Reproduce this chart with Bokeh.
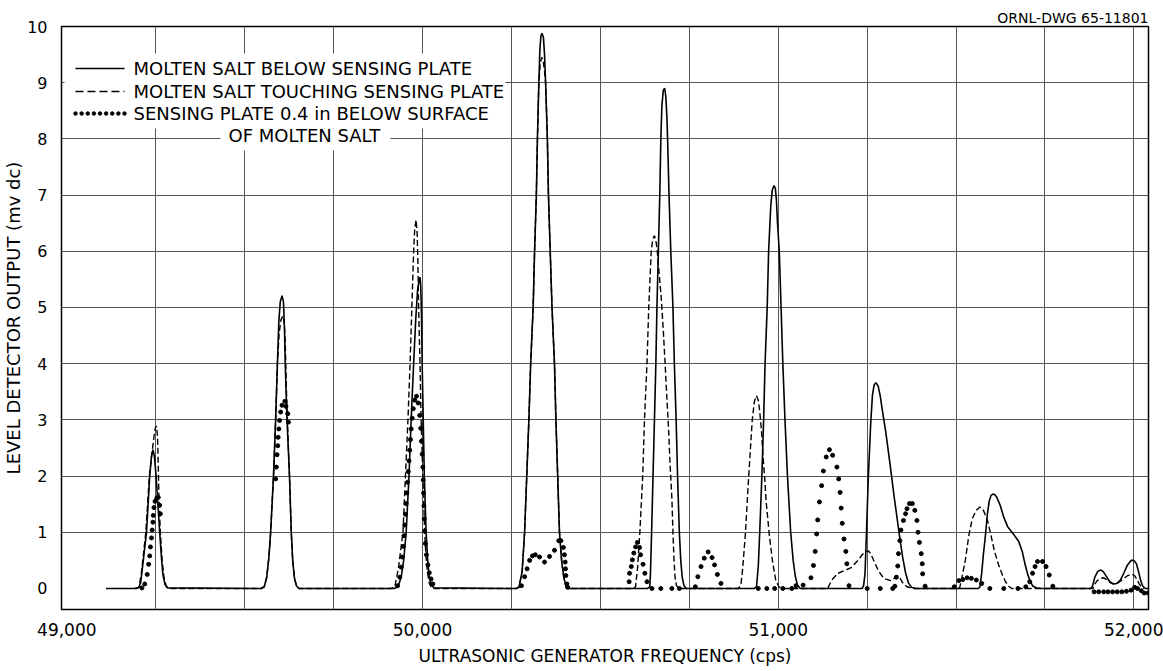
from bokeh.embed import file_html
from bokeh.resources import INLINE
from bokeh.plotting import figure
from bokeh.models import ColumnDataSource, FixedTicker, Label, BoxAnnotation, Range1d, Title

# ---------------------------------------------------------------------------
# Level detector output (mv dc) versus ultrasonic generator frequency (cps)
# ---------------------------------------------------------------------------

# Molten salt below sensing plate (solid curve)
below_plate = [
    (49110, 0), (49195, 0),
    (49203, 0.02), (49208, 0.12), (49215, 0.5), (49224, 1.0), (49233, 2.0), (49238, 2.35),
    (49242, 2.47), (49246, 2.36), (49251, 2.0), (49261, 1.0), (49266, 0.55), (49270, 0.25),
    (49276, 0.07), (49283, 0.01),
    (49545, 0),
    (49555, 0.03), (49562, 0.2), (49568, 0.55), (49573, 1.0), (49581, 2.0), (49587, 3.0),
    (49592, 4.0), (49596, 4.75), (49600, 5.1), (49605, 5.21), (49609, 5.1), (49612, 4.6),
    (49614, 4.0), (49619, 3.0), (49626, 2.0), (49631, 1.0), (49635, 0.5), (49640, 0.18),
    (49646, 0.04), (49653, 0),
    (49920, 0),
    (49931, 0.03), (49940, 0.2), (49947, 0.5), (49954, 1.0), (49962, 2.0), (49968, 3.0),
    (49975, 4.0), (49981, 4.8), (49986, 5.3), (49990, 5.47), (49993, 5.54), (49995, 5.38),
    (49997, 4.9), (49999, 4.0), (50002, 3.0), (50005, 2.0), (50010, 1.0), (50014, 0.55),
    (50018, 0.25), (50024, 0.08), (50032, 0.01),
    (50262, 0),
    (50271, 0.02), (50280, 0.3), (50287, 1.0), (50293, 2.0), (50299, 3.0), (50304, 4.0),
    (50311, 5.0), (50315, 6.0), (50320, 7.0), (50323, 8.0), (50327, 9.0), (50330, 9.6),
    (50333, 9.84), (50336, 9.88), (50340, 9.8), (50343, 9.5), (50346, 9.0), (50351, 8.0),
    (50354, 7.0), (50359, 6.0), (50364, 5.0), (50371, 4.0), (50375, 3.0), (50380, 2.0),
    (50385, 1.0), (50391, 0.5), (50397, 0.2), (50403, 0.05), (50410, 0),
    (50632, 0),
    (50639, 0.03), (50641, 0.3), (50644, 1.0), (50648, 2.0), (50652, 3.0), (50656, 4.0),
    (50659, 5.0), (50663, 6.0), (50667, 7.0), (50670, 8.0), (50673, 8.6), (50677, 8.87),
    (50681, 8.9), (50684, 8.75), (50687, 8.4), (50689, 8.0), (50693, 7.0), (50698, 6.0),
    (50704, 5.0), (50708, 4.0), (50713, 3.0), (50717, 2.0), (50722, 1.0), (50726, 0.5),
    (50730, 0.2), (50735, 0.05), (50742, 0),
    (50932, 0),
    (50939, 0.03), (50944, 0.4), (50948, 1.0), (50954, 2.0), (50959, 3.0), (50963, 4.0),
    (50969, 5.0), (50973, 6.0), (50979, 6.8), (50983, 7.08), (50988, 7.17), (50992, 7.12),
    (50995, 6.9), (50998, 6.5), (51003, 6.0), (51008, 5.0), (51013, 4.0), (51019, 3.0),
    (51026, 2.0), (51035, 1.0), (51042, 0.5), (51048, 0.22), (51054, 0.06), (51062, 0),
    (51236, 0),
    (51240, 0.05), (51244, 0.26), (51248, 0.97), (51253, 1.93), (51260, 2.94), (51265, 3.45),
    (51270, 3.63), (51275, 3.66), (51281, 3.6), (51287, 3.42), (51292, 3.2), (51302, 2.8),
    (51314, 2.23), (51326, 1.63), (51340, 0.98), (51350, 0.55), (51358, 0.28), (51366, 0.1),
    (51375, 0.02), (51385, 0),
    (51563, 0),
    (51567, 0.03), (51572, 0.27), (51577, 0.62), (51583, 0.97), (51588, 1.32), (51593, 1.55),
    (51598, 1.65), (51603, 1.68), (51609, 1.67), (51614, 1.63), (51624, 1.48), (51634, 1.27),
    (51645, 1.1), (51660, 0.98), (51676, 0.84), (51686, 0.66), (51694, 0.43), (51701, 0.26),
    (51708, 0.13), (51716, 0.04), (51727, 0.01), (51740, 0),
    (51880, 0),
    (51884, 0.05), (51890, 0.2), (51898, 0.3), (51906, 0.33), (51914, 0.3), (51922, 0.22),
    (51932, 0.12), (51942, 0.08), (51952, 0.09), (51962, 0.15), (51972, 0.28), (51982, 0.42),
    (51992, 0.5), (52000, 0.5), (52007, 0.44), (52013, 0.3), (52019, 0.14), (52025, 0.04),
    (52032, 0), (52041, 0),
]

# Molten salt touching sensing plate (dashed curve)
touching_plate = [
    (49190, 0),
    (49203, 0.02), (49210, 0.3), (49222, 1.0), (49232, 2.0), (49240, 2.45), (49245, 2.7),
    (49249, 2.86), (49252, 2.89), (49255, 2.7), (49257, 2.2), (49259, 1.6), (49263, 1.0),
    (49268, 0.5), (49273, 0.2), (49279, 0.05), (49286, 0),
    (49548, 0),
    (49555, 0.03), (49562, 0.2), (49568, 0.55), (49573, 1.0), (49581, 2.0), (49587, 3.0),
    (49592, 4.0), (49597, 4.55), (49602, 4.78), (49607, 4.85), (49611, 4.75), (49614, 4.4),
    (49617, 3.6), (49620, 3.0), (49626, 2.0), (49631, 1.0), (49635, 0.5), (49640, 0.18),
    (49646, 0.04), (49653, 0),
    (49912, 0),
    (49922, 0.03), (49932, 0.35), (49939, 0.7), (49945, 1.0), (49952, 2.0), (49959, 3.0),
    (49965, 4.0), (49970, 5.0), (49975, 6.0), (49978, 6.4), (49982, 6.56), (49985, 6.3),
    (49987, 5.8), (49989, 5.0), (49993, 4.0), (49996, 3.0), (50001, 2.0), (50006, 1.0),
    (50010, 0.55), (50014, 0.28), (50019, 0.09), (50026, 0.01), (50032, 0),
    (50265, 0),
    (50271, 0.02), (50280, 0.3), (50287, 1.0), (50293, 2.0), (50299, 3.0), (50304, 4.0),
    (50311, 5.0), (50315, 6.0), (50320, 7.0), (50323, 8.0), (50327, 9.0), (50331, 9.35),
    (50335, 9.45), (50339, 9.4), (50343, 9.2), (50346, 9.0), (50351, 8.0), (50354, 7.0),
    (50359, 6.0), (50364, 5.0), (50371, 4.0), (50375, 3.0), (50380, 2.0), (50385, 1.0),
    (50391, 0.5), (50397, 0.2), (50403, 0.05), (50410, 0),
    (50590, 0),
    (50599, 0.03), (50605, 0.4), (50611, 1.0), (50619, 2.0), (50624, 3.0), (50631, 4.0),
    (50636, 5.0), (50643, 6.0), (50647, 6.2), (50652, 6.28), (50657, 6.15), (50660, 6.0),
    (50663, 5.77), (50671, 5.18), (50677, 4.58), (50682, 3.99), (50687, 3.39), (50692, 2.8),
    (50696, 2.2), (50701, 1.61), (50704, 1.01), (50707, 0.5), (50710, 0.2), (50714, 0.05),
    (50720, 0),
    (50888, 0),
    (50895, 0.06), (50900, 0.35), (50908, 1.0), (50917, 2.0), (50927, 3.0), (50933, 3.33),
    (50939, 3.43), (50944, 3.35), (50948, 3.15), (50953, 2.8), (50957, 2.38), (50962, 1.96),
    (50966, 1.55), (50975, 0.95), (50984, 0.48), (50993, 0.15), (51002, 0.03), (51010, 0),
    (51139, 0),
    (51145, 0.08), (51153, 0.17), (51168, 0.27), (51187, 0.32), (51205, 0.37), (51224, 0.5),
    (51236, 0.6), (51245, 0.66), (51253, 0.67), (51260, 0.62), (51267, 0.52), (51282, 0.31),
    (51297, 0.18), (51316, 0.14), (51326, 0.18), (51334, 0.23), (51340, 0.21), (51350, 0.1),
    (51362, 0.03), (51379, 0),
    (51508, 0),
    (51510, 0.01), (51515, 0.15), (51526, 0.5), (51536, 0.95), (51546, 1.25), (51557, 1.39),
    (51567, 1.45), (51577, 1.39), (51588, 1.22), (51598, 0.95), (51608, 0.66), (51619, 0.43),
    (51629, 0.26), (51639, 0.12), (51648, 0.04), (51656, 0),
    (51885, 0),
    (51889, 0.07), (51897, 0.14), (51907, 0.18), (51915, 0.19), (51925, 0.15), (51935, 0.1),
    (51946, 0.08), (51958, 0.11), (51970, 0.17), (51983, 0.23), (51994, 0.26), (52003, 0.22),
    (52010, 0.14), (52016, 0.07), (52022, 0.02), (52028, 0),
]

# Sensing plate 0.4 in below surface of molten salt (individual readings, dotted)
submerged_plate = [
    (49211, 0.01), (49219, 0.08), (49226, 0.25), (49230, 0.43), (49233, 0.58), (49235, 0.74),
    (49238, 0.9), (49240, 1.04), (49242, 1.18), (49243, 1.3), (49245, 1.44), (49248, 1.55),
    (49253, 1.61), (49257, 1.62), (49261, 1.48), (49263, 1.33),
    (49587, 1.95), (49589, 2.16), (49591, 2.38), (49593, 2.54), (49594, 2.69), (49596, 2.84),
    (49598, 2.99), (49601, 3.14), (49605, 3.26), (49613, 3.33), (49616, 3.24), (49621, 3.11),
    (49623, 2.96),
    (49930, 0.05), (49936, 0.2), (49940, 0.38), (49943, 0.56), (49946, 0.75), (49948, 0.94),
    (49950, 1.13), (49952, 1.32), (49954, 1.51), (49956, 1.7), (49958, 1.89), (49960, 2.08),
    (49962, 2.27), (49964, 2.46), (49966, 2.65), (49968, 2.84), (49971, 3.03), (49974, 3.2),
    (49978, 3.35), (49983, 3.42), (49988, 3.3), (49992, 3.08), (49995, 2.85), (49997, 2.62),
    (49999, 2.39), (50001, 2.16), (50002, 1.93), (50003, 1.7), (50004, 1.47), (50005, 1.24),
    (50006, 1.02), (50008, 0.8), (50011, 0.6), (50015, 0.42), (50019, 0.28), (50024, 0.17),
    (50029, 0.08),
    (50278, 0.05), (50287, 0.21), (50294, 0.35), (50301, 0.5), (50309, 0.58), (50317, 0.6),
    (50329, 0.56), (50343, 0.47), (50357, 0.57), (50371, 0.68), (50383, 0.85), (50389, 0.85),
    (50396, 0.73), (50399, 0.6), (50401, 0.47), (50402, 0.35), (50403, 0.23), (50406, 0.08),
    (50408, 0.02),
    (50581, 0.12), (50582, 0.27), (50587, 0.39), (50590, 0.51), (50594, 0.63), (50599, 0.74),
    (50604, 0.82), (50610, 0.73), (50613, 0.6), (50620, 0.43), (50625, 0.27), (50631, 0.12),
    (50645, 0), (50670, 0), (50701, 0), (50722, 0),
    (50767, 0.03), (50774, 0.21), (50783, 0.39), (50792, 0.54), (50803, 0.65), (50814, 0.55),
    (50821, 0.42), (50829, 0.25), (50839, 0.09),
    (50944, 0), (50968, 0), (50990, 0), (51013, 0), (51038, 0), (51050, 0.05), (51070, 0.06),
    (51092, 0.19), (51099, 0.41), (51104, 0.66), (51108, 0.97), (51111, 1.22), (51116, 1.54),
    (51122, 1.83), (51127, 2.09), (51135, 2.34), (51144, 2.47), (51153, 2.37), (51165, 2.16),
    (51170, 1.95), (51174, 1.71), (51177, 1.43), (51180, 1.16), (51185, 0.88), (51190, 0.66),
    (51193, 0.44), (51199, 0.05),
    (51250, 0), (51287, 0), (51322, 0),
    (51328, 0.04), (51332, 0.2), (51336, 0.4), (51338, 0.62), (51342, 0.85), (51345, 1.04),
    (51352, 1.21), (51358, 1.33), (51362, 1.42), (51369, 1.51), (51377, 1.51), (51384, 1.39),
    (51390, 1.21), (51393, 1.0), (51397, 0.82), (51402, 0.62), (51405, 0.44), (51406, 0.26),
    (51413, 0.04),
    (51495, 0.03), (51508, 0.14), (51519, 0.16), (51531, 0.19), (51543, 0.18), (51557, 0.15),
    (51572, 0.09), (51595, 0), (51634, 0), (51674, 0),
    (51696, 0.03), (51707, 0.12), (51715, 0.27), (51722, 0.39), (51729, 0.48), (51743, 0.48),
    (51753, 0.39), (51762, 0.24), (51772, 0.04),
    (51888, -0.06), (51901, -0.06), (51915, -0.06), (51927, -0.06), (51940, -0.06),
    (51953, -0.06), (51966, -0.06), (51979, -0.05), (51992, -0.03), (52002, 0.02),
    (52010, 0.0), (52021, -0.04), (52029, -0.08), (52040, -0.08),
]

x_tick_values = [49000, 50000, 51000, 52000]
x_tick_labels = ["49,000", "50,000", "51,000", "52,000"]
x_grid_values = [49250, 49500, 49750, 50000, 50250, 50500, 50750, 51000,
                 51250, 51500, 51750, 52000]
y_tick_values = [0, 1, 2, 3, 4, 5, 6, 7, 8, 9, 10]
y_grid_values = [1, 2, 3, 4, 5, 6, 7, 8, 9]

legend_labels = [
    "MOLTEN SALT BELOW SENSING PLATE",
    "MOLTEN SALT TOUCHING SENSING PLATE",
    "SENSING PLATE 0.4 in BELOW SURFACE",
    "OF MOLTEN SALT",
]
drawing_number = "ORNL-DWG 65-11801"

# ---------------------------------------------------------------------------
# Layout
# ---------------------------------------------------------------------------
W, H = 1163, 671
B_LEFT, B_RIGHT, B_TOP, B_BOTTOM = 61, 15, 26, 62
FRAME_W = W - B_LEFT - B_RIGHT
FRAME_H = H - B_TOP - B_BOTTOM
X0, X1 = 48985, 52041
Y0, Y1 = -0.374, 10.0
FONT = "DejaVu Sans"


def sx(px):
    """Canvas pixel column -> frequency coordinate."""
    return X0 + (px - B_LEFT) * (X1 - X0) / FRAME_W


def sy(py):
    """Canvas pixel row -> output coordinate."""
    return Y1 - (py - B_TOP) * (Y1 - Y0) / FRAME_H


def split(points):
    return [p[0] for p in points], [p[1] for p in points]


p = figure(width=W, height=H, output_backend="svg", toolbar_location=None,
           x_range=Range1d(X0, X1), y_range=Range1d(Y0, Y1),
           min_border_left=B_LEFT, min_border_right=B_RIGHT,
           min_border_top=B_TOP, min_border_bottom=B_BOTTOM)
p.background_fill_color = "white"
p.border_fill_color = "white"
p.outline_line_color = "black"
p.outline_line_width = 1.5

# drawing number, top right
p.add_layout(Title(text=drawing_number, align="right", text_font=FONT,
                   text_font_size="14px", text_font_style="normal", text_color="black",
                   standoff=2, offset=0), "above")

# axes
for ax in (p.xaxis[0], p.yaxis[0]):
    ax.axis_line_color = None
    ax.major_tick_line_color = None
    ax.minor_tick_line_color = None
    ax.major_tick_out = 0
    ax.major_tick_in = 0
    ax.minor_tick_out = 0
    ax.minor_tick_in = 0
    ax.major_label_text_font = FONT
    ax.major_label_text_color = "black"
    ax.axis_label_text_font = FONT
    ax.axis_label_text_color = "black"
    ax.axis_label_text_font_style = "normal"

p.xaxis.ticker = FixedTicker(ticks=x_tick_values)
p.xaxis.major_label_overrides = dict(zip(x_tick_values, x_tick_labels))
p.xaxis.major_label_text_font_size = "17px"
p.xaxis.major_label_standoff = 13
p.xaxis.axis_label = "ULTRASONIC GENERATOR FREQUENCY (cps)"
p.xaxis.axis_label_text_font_size = "17px"
p.xaxis.axis_label_standoff = 7

p.yaxis.ticker = FixedTicker(ticks=y_tick_values)
p.yaxis.major_label_text_font_size = "16px"
p.yaxis.major_label_standoff = 14
p.yaxis.axis_label = "LEVEL DETECTOR OUTPUT (mv dc)"
p.yaxis.axis_label_text_font_size = "18px"
p.yaxis.axis_label_standoff = 0

# grid
p.xgrid.ticker = FixedTicker(ticks=x_grid_values)
p.ygrid.ticker = FixedTicker(ticks=y_grid_values)
for g in (p.xgrid[0], p.ygrid[0]):
    g.grid_line_color = "#555555"
    g.grid_line_width = 1

# blank panel behind the key
for left, right, top, bottom in ((64, 505, 53, 128), (220, 390, 128, 150)):
    p.add_layout(BoxAnnotation(left=sx(left), right=sx(right), top=sy(top), bottom=sy(bottom),
                               fill_color="white", fill_alpha=1.0, line_color=None,
                               level="underlay"))

# curves
bx, by = split(below_plate)
tx, ty = split(touching_plate)
dx_, dy_ = split(submerged_plate)
p.line(x="x", y="y", source=ColumnDataSource(dict(x=bx, y=by)),
       line_color="black", line_width=1.6)
p.line(x="x", y="y", source=ColumnDataSource(dict(x=tx, y=ty)),
       line_color="black", line_width=1.4, line_dash="6 3")
p.scatter(x="x", y="y", source=ColumnDataSource(dict(x=dx_, y=dy_)),
          marker="circle", size=4, fill_color="black", line_color="black")

# key
KEY_X0, KEY_X1, TEXT_X = 75, 124, 133
ROWS = [68, 91, 113, 135]
p.line([sx(KEY_X0), sx(KEY_X1)], [sy(ROWS[0])] * 2, line_color="black", line_width=1.6)
p.line([sx(KEY_X0), sx(KEY_X1)], [sy(ROWS[1])] * 2, line_color="black", line_width=1.4,
       line_dash="8 4")
n_dots = 9
step = (KEY_X1 - KEY_X0) / (n_dots - 1)
p.scatter([sx(KEY_X0 + i * step) for i in range(n_dots)], [sy(ROWS[2])] * n_dots,
          marker="circle", size=3.5, fill_color="black", line_color="black")

for label, row in zip(legend_labels[:3], ROWS[:3]):
    p.add_layout(Label(x=sx(TEXT_X), y=sy(row), text=label, text_align="left",
                       text_baseline="middle", text_font=FONT, text_font_size="18px",
                       text_color="black"))
p.add_layout(Label(x=sx(228), y=sy(ROWS[3]), text=legend_labels[3], text_align="left",
                   text_baseline="middle", text_font=FONT, text_font_size="18px",
                   text_color="black"))

open("out.html", "w").write(file_html(p, INLINE))
